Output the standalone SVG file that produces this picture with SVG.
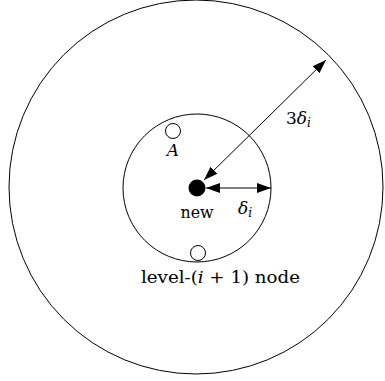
<svg xmlns="http://www.w3.org/2000/svg" width="385" height="381" viewBox="0 0 385 381">
<style>
.c{fill:none;stroke:#000;stroke-width:1}
.l{stroke:#000;stroke-width:1}
.t{font-family:'DejaVu Serif','Liberation Serif',serif;font-size:17px;fill:#000}
.i{font-style:italic}
</style>
<defs>
<marker id="ah" viewBox="0 0 10 10" refX="10" refY="5" markerWidth="14" markerHeight="14" markerUnits="userSpaceOnUse" orient="auto-start-reverse">
<path d="M0,1.5 L10,5 L0,8.5 Z" fill="#000"/>
</marker>
</defs>
<g id="outer"><circle class="c" cx="196" cy="187" r="187"/></g>
<g id="inner"><circle class="c" cx="197" cy="188" r="74"/></g>
<g id="new"><circle cx="197" cy="188" r="8.5" fill="#000"/><text class="t" x="197" y="218" text-anchor="middle" textLength="33" lengthAdjust="spacingAndGlyphs">new</text></g>
<g id="A"><circle class="c" cx="173" cy="131" r="7.5"/><text class="t i" x="173" y="156" text-anchor="middle">A</text></g>
<g id="level"><circle class="c" cx="198" cy="253" r="7.5"/><text class="t" x="141" y="283" textLength="159" lengthAdjust="spacingAndGlyphs">level-(<tspan class="i">i</tspan> + 1)  node</text></g>
<g id="connectors">
<line class="l" x1="206" y1="188" x2="271" y2="188" marker-start="url(#ah)" marker-end="url(#ah)"/>
<line class="l" x1="204" y1="180" x2="326" y2="60" marker-start="url(#ah)" marker-end="url(#ah)"/>
</g>
<text class="t i" x="238" y="214">δ<tspan font-size="12" dy="3">i</tspan></text>
<text class="t" x="286" y="124">3<tspan class="i">δ</tspan><tspan class="i" font-size="12" dy="3">i</tspan></text>
</svg>
